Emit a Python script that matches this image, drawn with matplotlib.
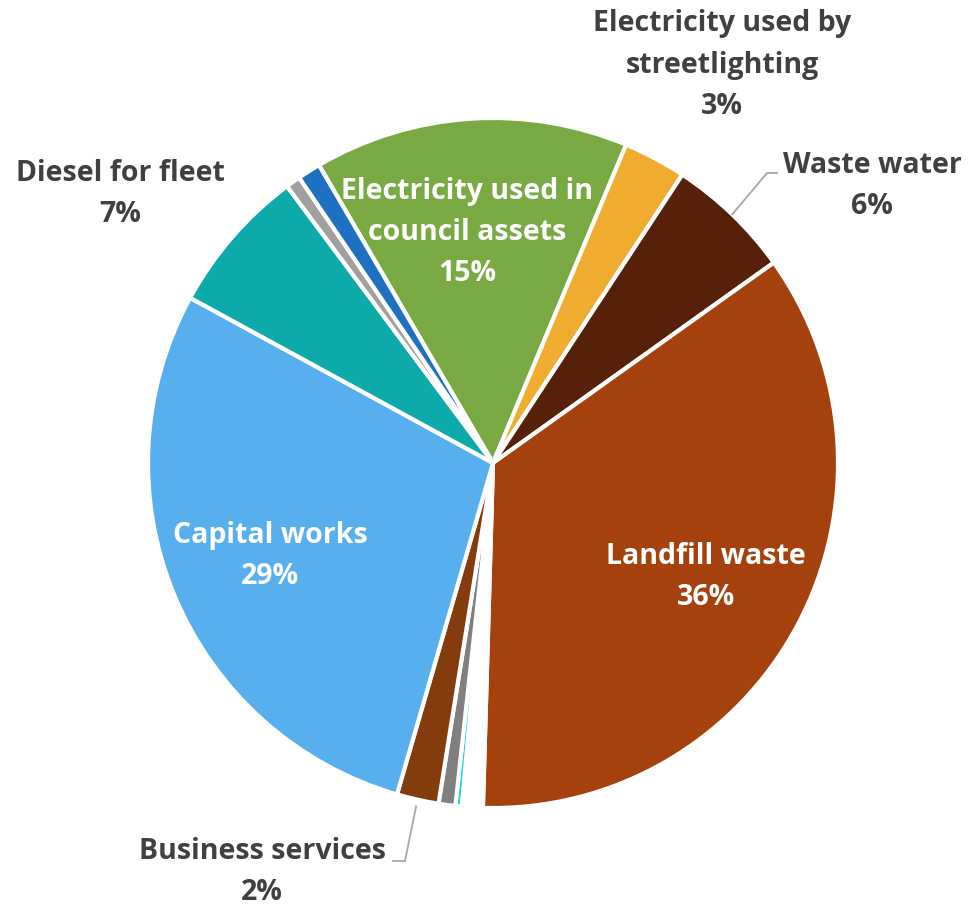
import numpy as np
import matplotlib
matplotlib.use("Agg")
import matplotlib.pyplot as plt

# Emission sources, clockwise from the top
categories = [
    "Electricity used in council assets",
    "Electricity used by streetlighting",
    "Waste water",
    "Landfill waste",
    "Water",
    "Refrigerants",
    "Paper",
    "Business services",
    "Capital works",
    "Diesel for fleet",
    "Petrol for fleet",
    "Gas",
]
values = [15, 3, 6, 36, 1.0, 0.3, 0.8, 2, 29, 7, 0.7, 1.1]
colors = [
    "#78A942", "#F0AC2E", "#562108", "#A5410D", "#FFFFFF", "#1ED4D4",
    "#808080", "#843C0C", "#58AFEE", "#0CAAA8", "#A0A0A0", "#1E70C0",
]

W, H, DPI = 968, 909, 100
CX, CY, R = 493, 463, 345          # pie centre and radius in pixels

fig = plt.figure(figsize=(W / DPI, H / DPI), dpi=DPI)
ax = fig.add_axes([0, 0, 1, 1])


def px(x, y):
    """Pixel position (from top-left) to data units of a unit-radius pie."""
    return (x - CX) / R, (CY - y) / R


wedges, _ = ax.pie(
    values, colors=colors, startangle=120.3, counterclock=False,
    radius=1.0, center=(0, 0),
    wedgeprops=dict(edgecolor="white", linewidth=3, joinstyle="miter"),
)

ax.set_xlim((0 - CX) / R, (W - CX) / R)
ax.set_ylim((CY - H) / R, CY / R)
ax.set_aspect("equal", adjustable="box")
ax.axis("off")

FONT = "Open Sans"
FS = 20.5
LS = 1.55
dark = "#404040"
lead = "#A6A6A6"


def mid_angle(w):
    return np.deg2rad((w.theta1 + w.theta2) / 2)


def pct(i):
    return f"{values[i]:.0f}%"


# labels inside their wedges (radius fraction, angular nudge in degrees)
for i, rfrac, nudge in [(0, 0.673, 2.6), (3, 0.70, 0.0), (8, 0.70, 0.0)]:
    a = mid_angle(wedges[i]) + np.deg2rad(nudge)
    name = categories[i]
    if i == 0:
        name = "Electricity used in\ncouncil assets"
    ax.text(rfrac * np.cos(a), rfrac * np.sin(a), f"{name}\n{pct(i)}",
            ha="center", va="center", color="white", fontsize=FS,
            fontweight="bold", family=FONT, linespacing=LS)

# labels outside the pie
x, y = px(722, 65)
ax.text(x, y, f"Electricity used by\nstreetlighting\n{pct(1)}", ha="center",
        va="center", color=dark, fontsize=FS, fontweight="bold", family=FONT,
        linespacing=LS)
x, y = px(120, 194)
ax.text(x, y, f"{categories[9]}\n{pct(9)}", ha="center", va="center",
        color=dark, fontsize=FS, fontweight="bold", family=FONT, linespacing=LS)
x, y = px(872, 186)
ax.text(x, y, f"{categories[2]}\n{pct(2)}", ha="center", va="center",
        color=dark, fontsize=FS, fontweight="bold", family=FONT, linespacing=LS)
x, y = px(262, 872)
ax.text(x, y, f"{categories[7]}\n{pct(7)}", ha="center", va="center",
        color=dark, fontsize=FS, fontweight="bold", family=FONT, linespacing=LS)

# leader lines
a = mid_angle(wedges[2])
p0 = (np.cos(a), np.sin(a))
p1 = px(767, 173)
p2 = px(777, 173)
ax.plot([p0[0], p1[0], p2[0]], [p0[1], p1[1], p2[1]], color=lead, lw=1.3,
        solid_joinstyle="miter")

a = mid_angle(wedges[7])
p0 = (1.02 * np.cos(a), 1.02 * np.sin(a))
p1 = px(405, 861)
p2 = px(393, 861)
ax.plot([p0[0], p1[0], p2[0]], [p0[1], p1[1], p2[1]], color=lead, lw=1.3,
        solid_joinstyle="miter")

fig.savefig("out.png", dpi=DPI, facecolor="white")
